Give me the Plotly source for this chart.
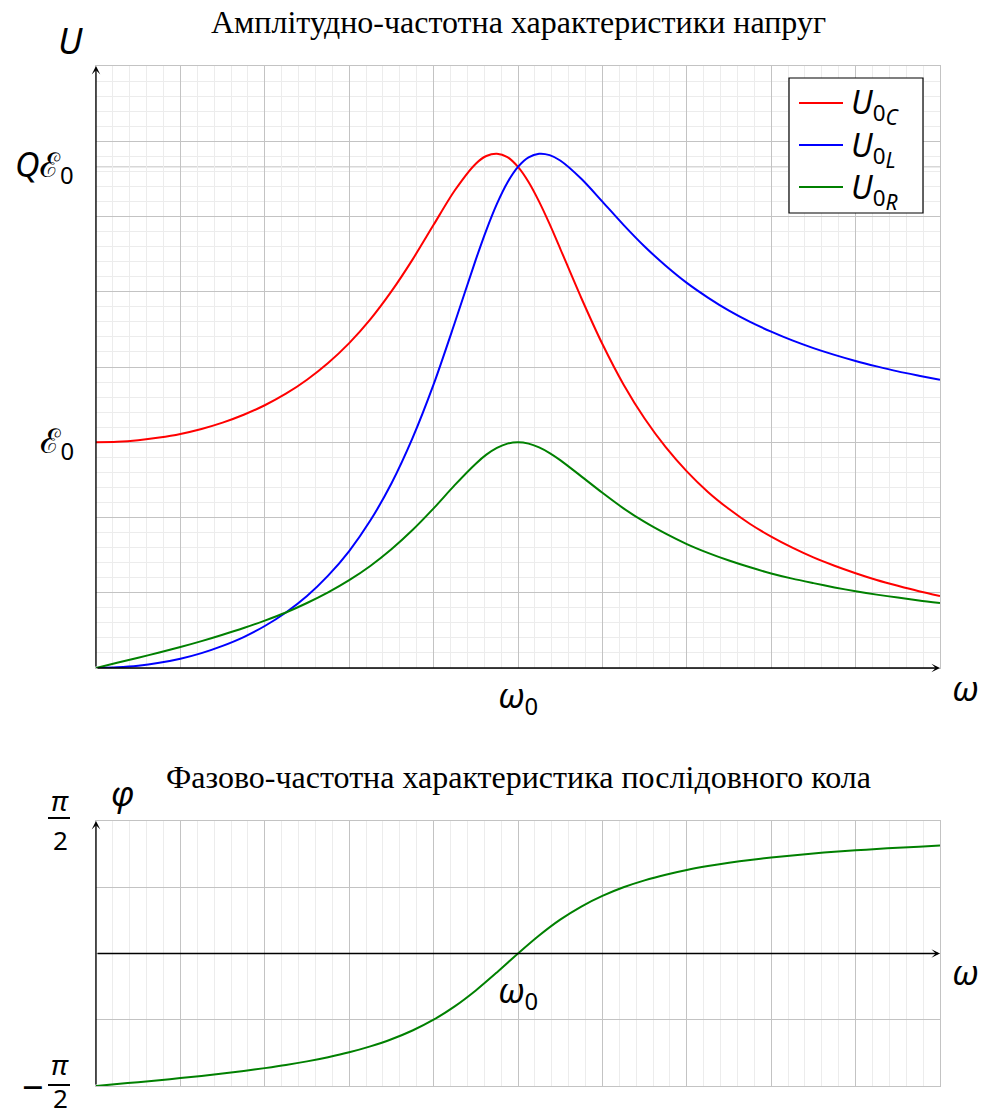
import math
import plotly.graph_objects as go

# ---------------- data (x in units of omega_0, U in units of E0) ----------------
omega = [0.0, 0.05, 0.1, 0.15, 0.2, 0.25, 0.3, 0.35, 0.4, 0.45, 0.5, 0.55, 0.6, 0.65, 0.7, 0.75,
         0.8, 0.85, 0.9, 0.925, 0.95, 0.975, 1.0, 1.025, 1.05, 1.075, 1.1, 1.15, 1.2, 1.25, 1.3, 1.35,
         1.4, 1.45, 1.5, 1.55, 1.6, 1.65, 1.7, 1.75, 1.8, 1.85, 1.9, 1.95, 2.0]

U_C = [1.000, 1.002, 1.009, 1.021, 1.037, 1.059, 1.087, 1.122, 1.164, 1.215, 1.277, 1.351, 1.439,
       1.544, 1.668, 1.809, 1.963, 2.115, 2.234, 2.268, 2.278, 2.263, 2.220, 2.153, 2.066, 1.966,
       1.858, 1.639, 1.435, 1.256, 1.105, 0.978, 0.871, 0.780, 0.704, 0.638, 0.582, 0.533, 0.490,
       0.453, 0.420, 0.390, 0.364, 0.340, 0.319]

U_L = [0.000, 0.003, 0.010, 0.023, 0.041, 0.066, 0.098, 0.137, 0.186, 0.246, 0.319, 0.409, 0.518,
       0.653, 0.817, 1.018, 1.256, 1.528, 1.809, 1.940, 2.056, 2.151, 2.220, 2.262, 2.278, 2.272,
       2.248, 2.167, 2.066, 1.963, 1.867, 1.782, 1.706, 1.641, 1.583, 1.533, 1.490, 1.451, 1.417,
       1.387, 1.360, 1.336, 1.314, 1.295, 1.277]

U_R = [0.000, 0.023, 0.045, 0.069, 0.093, 0.119, 0.147, 0.177, 0.210, 0.246, 0.288, 0.335, 0.389,
       0.452, 0.526, 0.611, 0.707, 0.810, 0.905, 0.945, 0.975, 0.994, 1.000, 0.994, 0.977, 0.952,
       0.921, 0.849, 0.776, 0.707, 0.647, 0.595, 0.549, 0.510, 0.476, 0.446, 0.419, 0.396, 0.376,
       0.357, 0.340, 0.325, 0.312, 0.299, 0.288]

phase_omega = [0.0, 0.05, 0.1, 0.15, 0.2, 0.25, 0.3, 0.35, 0.4, 0.45, 0.5, 0.55, 0.6, 0.65, 0.7,
               0.75, 0.8, 0.85, 0.9, 0.95, 1.0, 1.05, 1.1, 1.15, 1.2, 1.25, 1.3, 1.35, 1.4, 1.45,
               1.5, 1.55, 1.6, 1.65, 1.7, 1.75, 1.8, 1.85, 1.9, 1.95, 2.0]
phi = [-1.571, -1.548, -1.525, -1.502, -1.477, -1.451, -1.423, -1.393, -1.359, -1.322, -1.279,
       -1.229, -1.171, -1.101, -1.017, -0.913, -0.785, -0.627, -0.438, -0.224, 0.000, 0.213,
       0.401, 0.557, 0.683, 0.785, 0.867, 0.934, 0.990, 1.036, 1.075, 1.109, 1.138, 1.163,
       1.186, 1.206, 1.223, 1.239, 1.254, 1.267, 1.279]

Q_level = 2.22      # Q*E0 tick level (in units of E0)
E0_level = 1.0

series_subs = ["C", "L", "R"]
series_vals = [U_C, U_L, U_R]
series_colors = ["#ff0000", "#0000ff", "#008000"]

# ---------------- styling ----------------
MAJOR = "#c3c3c3"
MINOR = "#ececec"
MATH_FONT = "Noto Sans"
TITLE_FONT = "Liberation Serif"

def legend_text(sub):
    return ("<i>U</i><sub>0<sub><i><span style='font-size:21px'>" + sub +
            "</span></i></sub></sub>")

fig = go.Figure()
for sub, vals, col in zip(series_subs, series_vals, series_colors):
    fig.add_trace(go.Scatter(x=omega, y=vals, mode="lines", name="U0" + sub, showlegend=False,
                             line=dict(color=col, width=2, shape="spline", smoothing=0.8),
                             xaxis="x", yaxis="y", hoverinfo="skip"))

fig.add_trace(go.Scatter(x=phase_omega, y=phi, mode="lines", showlegend=False,
                         line=dict(color="#008000", width=2, shape="spline", smoothing=0.8),
                         xaxis="x2", yaxis="y2", hoverinfo="skip"))

W, H = 981, 1118
L, R, T, B = 96, 41, 66, 32
plot_h = H - T - B  # 1020
top_dom = [(1086 - 668) / plot_h, 1.0]
bot_dom = [0.0, (1086 - 821) / plot_h]

def xax(anchor):
    return dict(range=[0, 2], anchor=anchor, domain=[0, 1], tick0=0, dtick=0.2,
                showgrid=True, gridcolor=MAJOR, gridwidth=1, zeroline=False,
                showticklabels=False, ticks="", showline=True, mirror=True,
                linecolor=MAJOR, linewidth=1,
                minor=dict(tick0=0, dtick=0.04, showgrid=True, gridcolor=MINOR, gridwidth=1))

fig.update_layout(
    width=W, height=H,
    margin=dict(l=L, r=R, t=T, b=B, pad=0),
    paper_bgcolor="white", plot_bgcolor="white",
    xaxis=xax("y"),
    yaxis=dict(range=[0, 8 / 3], domain=top_dom, anchor="x", tick0=0, dtick=1 / 3,
               showgrid=True, gridcolor=MAJOR, gridwidth=1, zeroline=False,
               showticklabels=False, ticks="", showline=True, mirror=True,
               linecolor=MAJOR, linewidth=1,
               minor=dict(tick0=0, dtick=1 / 15, showgrid=True, gridcolor=MINOR, gridwidth=1)),
    xaxis2=xax("y2"),
    yaxis2=dict(range=[-math.pi / 2, math.pi / 2], domain=bot_dom, anchor="x2",
                tick0=0, dtick=math.pi / 4, showgrid=True, gridcolor=MAJOR, gridwidth=1,
                zeroline=False, showticklabels=False, ticks="", showline=True, mirror=True,
                linecolor=MAJOR, linewidth=1),
    showlegend=False,
)

# extra grid line at Q*E0
fig.add_shape(type="line", xref="x", yref="y", x0=0, x1=2, y0=Q_level, y1=Q_level,
              line=dict(color=MAJOR, width=1), layer="below")

# axis arrows
def arrow(xr, yr, x0, y0, x1, y1):
    fig.add_annotation(xref=xr, yref=yr, axref=xr, ayref=yr, x=x1, y=y1, ax=x0, ay=y0,
                       text="", showarrow=True, arrowhead=3, arrowsize=1.1, arrowwidth=1.3,
                       arrowcolor="black", standoff=0, startstandoff=0)

arrow("x", "y", 0, 0, 2, 0)
arrow("x", "y", 0, 0, 0, 8 / 3)
arrow("x2", "y2", 0, 0, 2, 0)
arrow("x2", "y2", 0, -math.pi / 2, 0, math.pi / 2)

def px_x(p):
    return (p - 96) / 844

def px_y(p):
    return (1086 - p) / plot_h

def label(text, x, y, size=32, family=MATH_FONT, xanchor="center", yanchor="middle"):
    fig.add_annotation(xref="paper", yref="paper", x=x, y=y, text=text, showarrow=False,
                       font=dict(family=family, size=size, color="black"),
                       xanchor=xanchor, yanchor=yanchor)

# custom legend (box, sample lines, texts)
fig.add_shape(type="rect", xref="paper", yref="paper", x0=px_x(789), x1=px_x(923),
              y0=px_y(213), y1=px_y(78), line=dict(color="black", width=1.2),
              fillcolor="white", layer="above")
for i, (sub, col) in enumerate(zip(series_subs, series_colors)):
    ly = [103, 145, 187][i]
    fig.add_shape(type="line", xref="paper", yref="paper", x0=px_x(799), x1=px_x(843),
                  y0=px_y(ly), y1=px_y(ly), line=dict(color=col, width=2), layer="above")
    label(legend_text(sub), px_x(849), px_y(ly + 3), size=32, xanchor="left")

# titles
label("Амплітудно-частотна характеристики напруг", 0.5, px_y(22), size=32, family=TITLE_FONT)
label("Фазово-частотна характеристика послідовного кола", 0.5, px_y(777), size=32, family=TITLE_FONT)

# top chart labels
label("<i>U</i>", px_x(70), px_y(40), size=36)
label("<i>Qℰ</i><sub>0</sub>", px_x(76), px_y(166), size=34, xanchor="right")
label("<i>ℰ</i><sub>0</sub>", px_x(76), px_y(442), size=34, xanchor="right")
label("<i>ω</i><sub>0</sub>", px_x(518), px_y(697), size=34)
label("<i>ω</i>", px_x(966), px_y(688), size=34)

# bottom chart labels
label("<i>φ</i>", px_x(122), px_y(793), size=34)
label("<i>ω</i><sub>0</sub>", px_x(518), px_y(992), size=34)
label("<i>ω</i>", px_x(966), px_y(972), size=34)
label("<i>π</i>", px_x(60), px_y(800), size=28)
label("2", px_x(60), px_y(840), size=26)
label("<i>π</i>", px_x(60), px_y(1064), size=28)
label("2", px_x(60), px_y(1118), size=26, yanchor="bottom")
label("−", px_x(33), px_y(1086), size=38)
for yy in (818, 1085):
    fig.add_shape(type="line", xref="paper", yref="paper", x0=px_x(48), x1=px_x(70),
                  y0=px_y(yy), y1=px_y(yy), line=dict(color="black", width=2))

fig.write_html("out.html", config={"displayModeBar": False},
               post_script="document.body.style.margin='0';document.body.style.overflow='hidden';")
